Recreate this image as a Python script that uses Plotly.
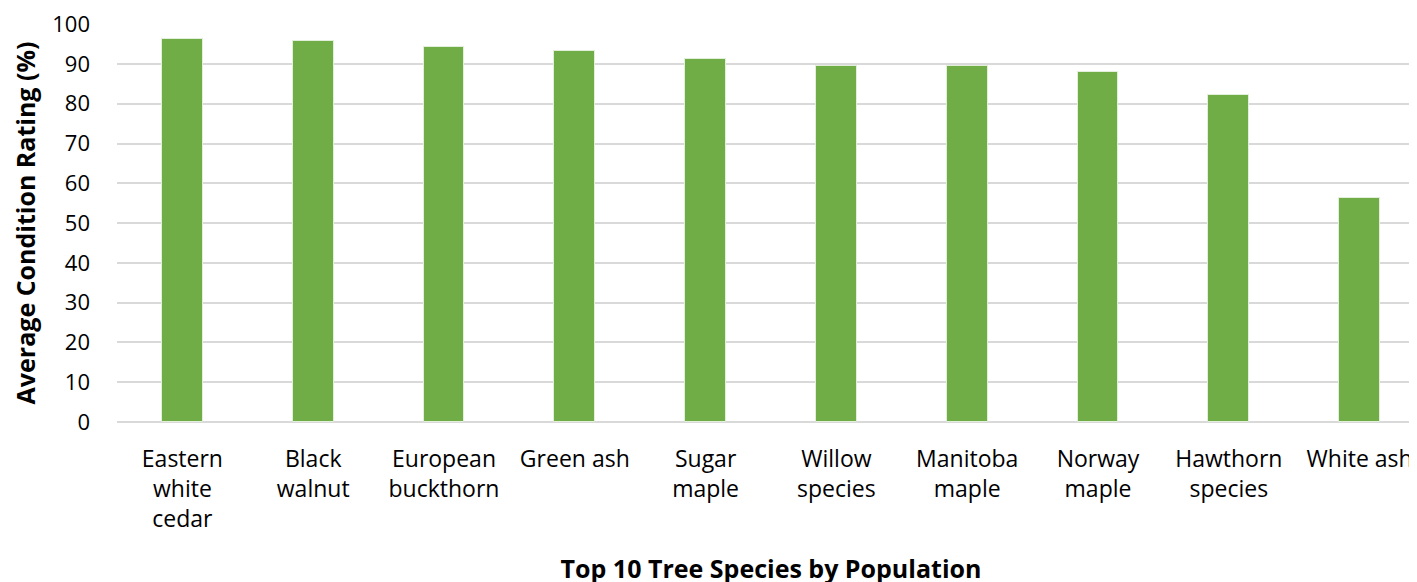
import plotly.graph_objects as go

species = ["Eastern<br>white<br>cedar", "Black<br>walnut", "European<br>buckthorn", "Green ash",
           "Sugar<br>maple", "Willow<br>species", "Manitoba<br>maple", "Norway<br>maple",
           "Hawthorn<br>species", "White ash"]
condition = [96.2, 95.7, 94.2, 93.2, 91.25, 89.6, 89.4, 87.9, 82.3, 56.3]
y_ticks = [0, 10, 20, 30, 40, 50, 60, 70, 80, 90, 100]

FONT = "Open Sans, Carlito, Calibri, sans-serif"

fig = go.Figure(go.Bar(
    x=list(range(len(species))), y=condition,
    marker=dict(color="#70AD47", line=dict(color="#E2EFDA", width=1)),
    width=0.313,
))

fig.update_layout(
    width=1417, height=582,
    margin=dict(l=109, r=0, t=14, b=168),
    plot_bgcolor="white", paper_bgcolor="white",
    font=dict(family=FONT, size=22, color="black"),
    showlegend=False,
    bargap=0,
)
fig.update_xaxes(
    tickmode="array", tickvals=list(range(len(species))), ticktext=species,
    range=[-0.5, 9.5], showgrid=False, zeroline=False, showline=False,
    ticks="", ticklen=0, tickangle=0, ticklabelstandoff=21,
    tickfont=dict(size=23),
    title=dict(text="<b>Top 10 Tree Species by Population</b>", standoff=27,
               font=dict(size=25)),
)
fig.update_yaxes(
    range=[0, 100.05], tickmode="array", tickvals=y_ticks,
    showgrid=True, gridcolor="#D9D9D9", gridwidth=1.5,
    zeroline=True, zerolinecolor="#D9D9D9", zerolinewidth=1.5,
    showline=False, ticks="", ticklen=0, ticklabelstandoff=26,
    ticklabeloverflow="allow",
    title=dict(text="<b>Average Condition Rating (%)</b>", standoff=22,
               font=dict(size=25)),
)

fig.write_html("out.html")
